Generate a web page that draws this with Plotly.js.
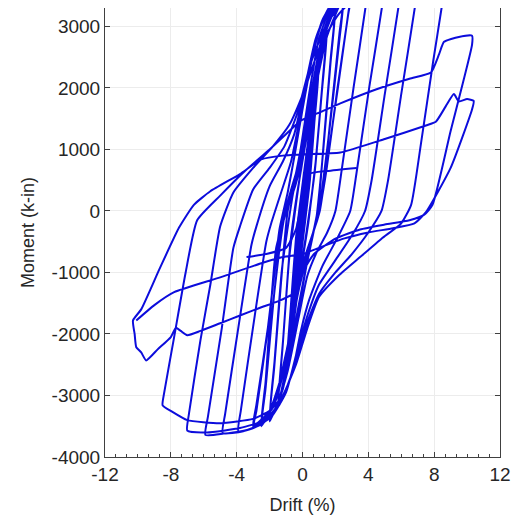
<!DOCTYPE html>
<html>
<head>
<meta charset="utf-8">
<script src="https://cdn.plot.ly/plotly-3.0.1.min.js"></script>
<style>html,body{margin:0;padding:0;background:#fff;}#chart{width:518px;height:522px;}</style>
</head>
<body>
<div id="chart"></div>
<script>
// ---- data (drift %, moment k-in), cycle by cycle ----
const drift_c1 = [0, 0.1, 0.25, 0.18, 0.05, -0.1, -0.25, -0.18, -0.05, 0.1, 0.25, 0.17, 0.02, -0.12, -0.25, -0.17, -0.04];
const moment_c1 = [0, 280, 650, 380, 0, -330, -750, -430, -40, 300, 670, 330, -60, -400, -760, -360, 20];

const drift_c2 = [0.12, 0.3, 0.5, 0.38, 0.18, 0.0, -0.22, -0.5, -0.38, -0.18, 0.02, 0.26, 0.5, 0.36, 0.14, -0.06, -0.28, -0.5, -0.35, -0.14];
const moment_c2 = [380, 820, 1300, 850, 220, -250, -800, -1450, -950, -280, 220, 780, 1280, 780, 100, -420, -960, -1420, -830, -140];

const drift_c3 = [0.1, 0.42, 0.75, 0.58, 0.32, 0.05, -0.32, -0.75, -0.58, -0.3, 0.0, 0.4, 0.75, 0.55, 0.26, -0.05, -0.42, -0.75, -0.55, -0.25];
const moment_c3 = [300, 1100, 1850, 1250, 350, -250, -1100, -2100, -1400, -450, 220, 1050, 1800, 1150, 250, -400, -1250, -2060, -1250, -330];

const drift_c4 = [0.02, 0.5, 1.0, 0.78, 0.45, 0.1, -0.45, -1.0, -0.78, -0.42, -0.05, 0.48, 1.0, 0.74, 0.38, 0.0, -0.52, -1.0, -0.75, -0.4];
const moment_c4 = [250, 1350, 2350, 1650, 500, -300, -1500, -2650, -1850, -650, 220, 1300, 2300, 1500, 380, -420, -1650, -2600, -1700, -450];

const drift_c5 = [-0.1, 0.35, 0.9, 1.5, 1.22, 0.8, 0.35, -0.15, -0.75, -1.5, -1.22, -0.8, -0.35, 0.1, 0.65, 1.5, 1.18, 0.75, 0.25, -0.25, -0.85, -1.5, -1.18, -0.75];
const moment_c5 = [220, 1150, 2150, 3000, 2100, 800, -200, -1050, -2200, -3200, -2250, -750, 200, 1050, 2050, 2950, 1950, 650, -330, -1200, -2350, -3180, -2100, -550];

const drift_c6 = [-0.35, 0.15, 0.75, 1.35, 2.0, 1.72, 1.3, 0.95, 0.3, -0.4, -1.2, -2.0, -1.72, -1.3, -0.9, -0.1, 0.55, 1.3, 2.0, 1.7, 1.25, 0.85, 0.15, -0.6, -1.35, -2.0, -1.7, -1.25];
const moment_c6 = [250, 1050, 2100, 2900, 3350, 2500, 1150, 50, -800, -1850, -2900, -3420, -2550, -1150, 0, 900, 1950, 2850, 3330, 2400, 950, -100, -1000, -2050, -3000, -3400, -2450, -950];

const drift_c6b = [-0.6, -0.05, 0.55, 1.2, 1.9, 2.5, 2.25, 1.7, 1.15, 0.5, -0.1, -0.8, -1.6, -2.5, -2.25, -1.7, -1.1, -0.45, 0.15, 0.8, 1.5, 2.5, 2.25, 1.65, 1.05, 0.4, -0.2, -0.95, -1.75, -2.5, -2.25, -1.6];
const moment_c6b = [250, 950, 1950, 2850, 3350, 3520, 2900, 1500, 200, -500, -1100, -2100, -3050, -3500, -2900, -1300, -100, 400, 1050, 2000, 2850, 3480, 2800, 1350, 100, -600, -1250, -2250, -3150, -3480, -2800, -600];

const drift_c7 = [-0.7, -0.15, 0.4, 1.0, 1.8, 3.0, 2.8, 2.15, 1.5, 1.05, 0.3, -0.35, -1.0, -1.8, -3.0, -2.8, -2.15, -1.55, -0.95, -0.1, 0.5, 1.2, 2.1, 3.0, 2.78, 2.1, 1.45, 0.95, 0.15, -0.5, -1.2, -2.0, -3.0, -2.8, -2.05, -1.4];
const moment_c7 = [250, 950, 1900, 2800, 3350, 3600, 3250, 2000, 800, 0, -650, -1400, -2450, -3200, -3530, -3250, -2000, -700, 100, 900, 1850, 2750, 3350, 3580, 3200, 1950, 650, -100, -750, -1600, -2600, -3250, -3500, -3150, -1800, -300];

const drift_c8 = [-0.9, -0.45, 0.0, 0.6, 1.2, 2.0, 3.0, 4.0, 3.85, 3.1, 2.4, 2.0, 1.5, 0.9, 0.3, -0.25, -0.9, -1.6, -2.4, -3.2, -3.9, -3.75, -2.9, -2.2, -1.9];
const moment_c8 = [300, 950, 1650, 2500, 3100, 3450, 3650, 3700, 3350, 2000, 700, 0, -350, -650, -1050, -1750, -2600, -3200, -3450, -3550, -3580, -3250, -1700, -500, -200];

const drift_c9 = [-1.3, -0.7, -0.2, 0.4, 1.1, 1.9, 3.2, 5.0, 4.85, 4.05, 3.3, 2.9, 2.1, 1.2, 0.4, -0.1, -0.6, -1.4, -2.4, -3.6, -4.85, -4.7, -3.9, -3.1, -2.8];
const moment_c9 = [300, 800, 1450, 2300, 3000, 3400, 3620, 3700, 3350, 2000, 650, 0, -450, -900, -1450, -1950, -2600, -3150, -3450, -3580, -3610, -3300, -1900, -550, -250];

const drift_c10 = [-2.0, -1.2, -0.5, 0.1, 0.8, 1.6, 2.8, 4.5, 6.0, 5.85, 5.0, 4.2, 3.8, 3.0, 2.0, 1.0, 0.3, -0.3, -1.0, -1.9, -3.2, -4.8, -5.9, -5.75, -4.9, -4.2, -3.8];
const moment_c10 = [400, 800, 1250, 1950, 2800, 3300, 3560, 3680, 3700, 3350, 1900, 500, 0, -400, -800, -1200, -1700, -2250, -2950, -3350, -3550, -3620, -3640, -3350, -1900, -600, -250];

const drift_c11 = [-3.0, -2.0, -1.1, -0.3, 0.5, 1.4, 2.4, 3.8, 5.6, 7.0, 6.85, 6.0, 5.2, 4.8, 4.0, 3.0, 2.0, 1.0, 0.3, -0.3, -1.2, -2.3, -3.8, -5.8, -7.0, -6.9, -6.2, -5.6, -5.0];
const moment_c11 = [350, 700, 1050, 1600, 2400, 3000, 3380, 3600, 3680, 3680, 3350, 1900, 500, 0, -350, -700, -1000, -1350, -1800, -2350, -3050, -3400, -3530, -3600, -3570, -3300, -2100, -1200, -250];

const drift_c12 = [-4.2, -3.0, -1.8, -0.8, 0.1, 1.1, 2.2, 3.4, 6.0, 8.6, 8.45, 7.95, 7.2, 6.6, 6.0, 4.8, 3.5, 2.2, 1.0, 0.3, -0.4, -1.2, -2.0, -3.0, -5.0, -7.0, -8.0, -8.5, -8.4, -7.8, -7.1, -6.4];
const moment_c12 = [300, 700, 1050, 1400, 1950, 2700, 3200, 3500, 3650, 3620, 3300, 2450, 1100, 100, -200, -450, -750, -1050, -1400, -1900, -2500, -3000, -3250, -3380, -3450, -3400, -3250, -3160, -2950, -2050, -1000, -150];

const drift_c13 = [-5.0, -3.5, -2.0, -0.8, -0.1, 1.2, 2.3, 4.5, 6.5, 7.8, 8.3, 8.6, 9.5, 10.3, 10.3, 9.0, 7.9, 7.4, 6.5, 5.0, 3.5, 2.0, 0.7, 0.0, -0.6, -1.5, -2.5, -3.8, -5.0, -6.2, -7.0, -7.4, -7.7, -8.0, -8.8, -9.5, -9.8, -10.1, -10.2, -10.3, -9.8, -8.7, -7.5];
const moment_c13 = [250, 650, 1000, 1300, 1470, 1620, 1750, 1980, 2150, 2250, 2550, 2750, 2830, 2850, 2700, 1300, 100, -60, -150, -220, -300, -450, -700, -1000, -1350, -1470, -1565, -1700, -1825, -1950, -2020, -1950, -1900, -2050, -2250, -2430, -2300, -2215, -2000, -1780, -1600, -950, -270];

const drift_c14 = [-6.6, -5.6, -3.8, -2.5, -1.2, 0.0, 2.3, 5.0, 7.5, 8.1, 8.7, 9.2, 9.5, 10.0, 10.4, 10.3, 9.0, 7.5, 6.8, 5.5, 4.0, 2.5, 1.0, 0.0, -1.2, -2.5, -5.0, -7.8, -9.0, -10.1];
const moment_c14 = [100, 320, 600, 840, 900, 920, 950, 1170, 1390, 1450, 1700, 1900, 1780, 1820, 1790, 1650, 700, -20, -200, -280, -350, -450, -600, -700, -750, -850, -1080, -1320, -1530, -1780];

// short separate segment between the two end marks near (-3.4, -750) and (3.3, 700)
const drift_seg = [-3.4, -2.2, -1.0, -0.4, 0.0, 0.4, 1.5, 3.3];
const moment_seg = [-750, -700, -600, -300, 200, 600, 650, 700];

const xTickVals = [-12, -8, -4, 0, 4, 8, 12];
const xTickText = ['-12', '-8', '-4', '0', '4', '8', '12'];
const yTickVals = [-4000, -3000, -2000, -1000, 0, 1000, 2000, 3000];
const yTickText = ['-4000', '-3000', '-2000', '-1000', '0', '1000', '2000', '3000'];

// ---- build the path ----
const driftAll = [].concat(drift_c1, drift_c2, drift_c3, drift_c4, drift_c5, drift_c6, drift_c6b, drift_c7,
  drift_c8, drift_c9, drift_c10, drift_c11, drift_c12, drift_c13, drift_c14);
const momentAll = [].concat(moment_c1, moment_c2, moment_c3, moment_c4, moment_c5, moment_c6, moment_c6b, moment_c7,
  moment_c8, moment_c9, moment_c10, moment_c11, moment_c12, moment_c13, moment_c14);

const lineColor = '#0c0cdc';
const traces = [
  {x: driftAll, y: momentAll, type: 'scatter', mode: 'lines',
   line: {color: lineColor, width: 2, shape: 'spline', smoothing: 0.5}, hoverinfo: 'skip'},
  {x: drift_seg, y: moment_seg, type: 'scatter', mode: 'lines',
   line: {color: lineColor, width: 2, shape: 'spline', smoothing: 0.5}, hoverinfo: 'skip'}
];

const fontFam = 'Liberation Sans, Arial, sans-serif';
const layout = {
  width: 518, height: 522,
  margin: {l: 105, r: 18, t: 8, b: 65},
  paper_bgcolor: '#ffffff', plot_bgcolor: '#ffffff',
  showlegend: false,
  font: {family: fontFam, size: 19, color: '#262626'},
  xaxis: {
    range: [-12, 12], tickmode: 'array', tickvals: xTickVals, ticktext: xTickText,
    ticks: 'inside', ticklen: 5, tickcolor: '#404040',
    showline: true, linecolor: '#404040', linewidth: 1, mirror: false,
    showgrid: true, gridcolor: '#ececec', gridwidth: 1, zeroline: false,
    minor: {dtick: 0.6667, ticks: 'inside', ticklen: 3, tickcolor: '#404040', showgrid: false},
    tickfont: {size: 19, family: fontFam, color: '#262626'},
    title: {text: 'Drift (%)', font: {size: 18, family: fontFam, color: '#262626'}, standoff: 14}
  },
  yaxis: {
    range: [-4000, 3300], tickmode: 'array', tickvals: yTickVals, ticktext: yTickText,
    ticks: 'inside', ticklen: 5, tickcolor: '#404040',
    showline: true, linecolor: '#404040', linewidth: 1, mirror: 'ticks',
    showgrid: true, gridcolor: '#ececec', gridwidth: 1, zeroline: false,
    tickfont: {size: 19, family: fontFam, color: '#262626'},
    title: {text: 'Moment (k-in)', font: {size: 18, family: fontFam, color: '#262626'}, standoff: 12}
  }
};

Plotly.newPlot('chart', traces, layout, {staticPlot: true, displayModeBar: false});
</script>
</body>
</html>
